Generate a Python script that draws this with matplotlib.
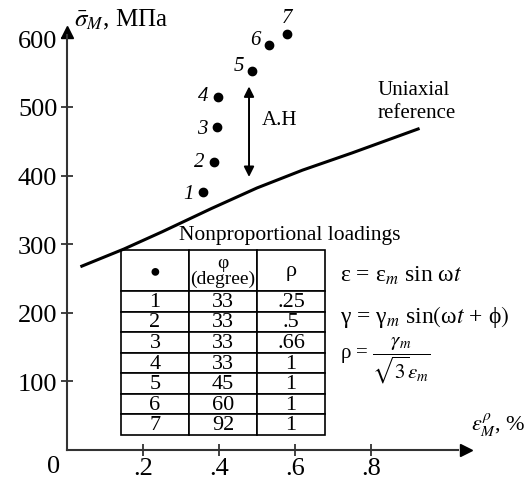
import matplotlib.pyplot as plt

plt.rcParams['font.family'] = ['Liberation Serif', 'DejaVu Sans']
plt.rcParams['mathtext.fontset'] = 'stix'

# точки (непропорційні навантаження)
labels = ['1', '2', '3', '4', '5', '6', '7']
strain = [0.358, 0.387, 0.395, 0.397, 0.487, 0.532, 0.579]
stress = [376, 420, 471, 515, 552, 590, 606]

# одновісна крива
uni_x = [0.039, 0.15, 0.25, 0.38, 0.5, 0.62, 0.75, 0.924]
uni_y = [268, 293, 318, 352, 382, 408, 433, 468]

# таблиця
phi = ['33', '33', '33', '33', '45', '60', '92']
rho = ['.25', '.5', '.66', '1', '1', '1', '1']

xticks = [0.2, 0.4, 0.6, 0.8]
xticklabels = ['.2', '.4', '.6', '.8']
yticks = [100, 200, 300, 400, 500, 600]

fig = plt.figure(figsize=(5.28, 4.81), dpi=100)
ax = fig.add_axes([0, 0, 1, 1])
ax.set_xlim(-67 / 380, 461 / 380)
ax.set_ylim(-30 / 0.686, 451 / 0.686)

axc = '#333333'
for s in ['top', 'right']:
    ax.spines[s].set_visible(False)
ax.spines['left'].set_position(('data', 0))
ax.spines['bottom'].set_position(('data', 0))
ax.spines['left'].set_bounds(0, 605)
ax.spines['bottom'].set_bounds(0, 1.03)
for s in ['left', 'bottom']:
    ax.spines[s].set_linewidth(1.5)
    ax.spines[s].set_color(axc)
ax.plot([0], [609], marker='^', color='k', markersize=9, clip_on=False)
ax.plot([1.05], [0], marker='>', color='k', markersize=9, clip_on=False)

ax.set_xticks(xticks)
ax.set_xticklabels(xticklabels)
ax.set_yticks(yticks)
ax.tick_params(direction='inout', length=8, width=1.3, color=axc,
               labelsize=19, pad=3)
ax.tick_params(axis='x', pad=1)
ax.text(-0.018, -8, '0', fontsize=19, ha='right', va='top')

ax.text(0.018, 628, r'$\bar{\sigma}_M$, МПа', fontsize=18, ha='left', va='center')
ax.text(1.062, 38, r'$\varepsilon_M^{\rho}$, %', fontsize=16, ha='left', va='center')

ax.plot(uni_x, uni_y, color='k', lw=2.2)
ax.plot(strain, stress, 'o', color='k', markersize=6)

offs = [(-7, -1), (-7, 0), (-7, -1), (-7, 1), (-6, 4), (-6, 4), (0, 12)]
for lab, x, y, o in zip(labels, strain, stress, offs):
    ha = 'center' if o[0] == 0 else 'right'
    ax.annotate(lab, (x, y), xytext=o, textcoords='offset points',
                fontsize=15, style='italic', ha=ha, va='center')

ax.annotate('', xy=(0.479, 530), xytext=(0.479, 398),
            arrowprops=dict(arrowstyle='<|-|>', lw=1.4, color='k',
                            mutation_scale=15, shrinkA=0, shrinkB=0))
ax.text(0.513, 482, 'A.H', fontsize=15, ha='left', va='center')
ax.text(0.818, 509, 'Uniaxial\nreference', fontsize=15, ha='left', va='center',
        linespacing=1.3)

ax.text(0.587, 314, 'Nonproportional loadings', fontsize=15.5, ha='center', va='center')

cells = [[l, p, r] for l, p, r in zip(labels, phi, rho)]
tab = ax.table(cellText=cells, colLabels=['●', 'φ\n(degree)', 'ρ'],
               cellLoc='center', bbox=[121 / 528, 1 - 436 / 481, 204 / 528, 185 / 481])
tab.auto_set_font_size(False)
tab.set_fontsize(16)
for (r, c), cell in tab.get_celld().items():
    cell.set_linewidth(1.2)
    if r == 0:
        cell.set_height(cell.get_height() * 2)
        if c == 0:
            cell.get_text().set_fontsize(13)
        elif c == 1:
            cell.get_text().set_fontsize(14)
            cell.get_text().set_linespacing(0.9)

ax.text(0.719, 255, r'ε = ε$_m$ sin ω$t$', fontsize=17, ha='left', va='center')
ax.text(0.719, 196, r'γ = γ$_m$ sin$\left(\right.$ω$t$ + ϕ$\left.\right)$', fontsize=17, ha='left', va='center')
ax.text(0.719, 132, r'ρ = $\dfrac{\gamma_m}{\sqrt{3}\varepsilon_m}$', fontsize=15, ha='left', va='center')

plt.savefig('out.png')
